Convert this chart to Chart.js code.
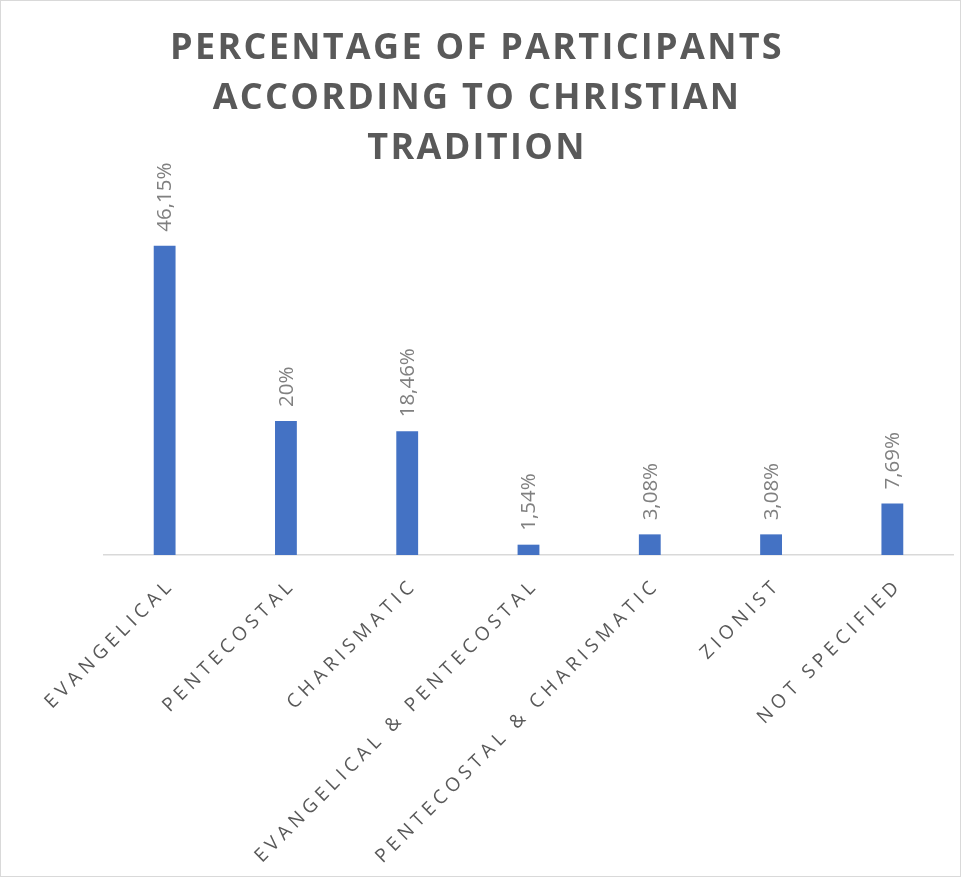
<!DOCTYPE html>
<html lang="en">
<head>
    <meta charset="UTF-8">
    <title>Christian Tradition</title>
    <script src="https://cdn.jsdelivr.net/npm/chart.js"></script>
    <style>
        body {
            margin: 0;
            background: #fff;
        }
        .wrap {
            width: 959px;
            height: 875px;
            border: 1px solid #d9d9d9;
        }
    </style>
</head>
<body>
    <div class="wrap">
        <canvas id="chart" width="959" height="875"></canvas>
    </div>

    <script>
        const categories = ['EVANGELICAL', 'PENTECOSTAL', 'CHARISMATIC', 'EVANGELICAL & PENTECOSTAL',
            'PENTECOSTAL & CHARISMATIC', 'ZIONIST', 'NOT SPECIFIED'];
        const percentages = [46.15, 20, 18.46, 1.54, 3.08, 3.08, 7.69];
        const valueLabels = ['46,15%', '20%', '18,46%', '1,54%', '3,08%', '3,08%', '7,69%'];
        const titleLines = ['PERCENTAGE OF PARTICIPANTS', 'ACCORDING TO CHRISTIAN', 'TRADITION'];

        // spacing for title text, reset before the bars
        const spacing = {
            id: 'spacing',
            beforeDraw(chart) { chart.ctx.letterSpacing = '2.3px'; },
            beforeDatasetsDraw(chart) { chart.ctx.letterSpacing = '0px'; }
        };

        const labels = {
            id: 'labels',
            afterDatasetsDraw(chart) {
                const ctx = chart.ctx;
                const bars = chart.getDatasetMeta(0).data;
                const x = chart.scales.x;
                const base = chart.chartArea.bottom;

                ctx.save();
                ctx.font = '20.5px "Open Sans"';
                ctx.fillStyle = '#808080';
                ctx.textAlign = 'left';
                ctx.textBaseline = 'middle';
                bars.forEach((bar, i) => {
                    ctx.save();
                    ctx.translate(bar.x + 1, bar.y - 14);
                    ctx.rotate(-Math.PI / 2);
                    ctx.fillText(valueLabels[i], 0, 0);
                    ctx.restore();
                });

                ctx.font = '19px "Open Sans"';
                ctx.letterSpacing = '4.8px';
                ctx.fillStyle = '#595959';
                ctx.textAlign = 'right';
                categories.forEach((c, i) => {
                    const px = x.getPixelForTick(i);
                    ctx.save();
                    ctx.translate(px + 7, base + 27);
                    ctx.rotate(-Math.PI / 4);
                    ctx.fillText(c, 0, 0);
                    ctx.restore();
                });
                ctx.restore();
            }
        };

        new Chart(document.getElementById('chart'), {
            type: 'bar',
            data: {
                labels: categories,
                datasets: [{
                    data: percentages,
                    backgroundColor: '#4472c4',
                    barPercentage: 0.18,
                    categoryPercentage: 1
                }]
            },
            options: {
                responsive: false,
                devicePixelRatio: 1,
                animation: false,
                layout: { padding: { right: 7 } },
                plugins: {
                    legend: { display: false },
                    tooltip: { enabled: false },
                    title: {
                        display: true,
                        text: titleLines,
                        color: '#595959',
                        font: { family: 'Open Sans', size: 36, weight: 'bold', lineHeight: 50 / 36 },
                        padding: { top: 23, bottom: 46 }
                    }
                },
                scales: {
                    x: {
                        grid: { display: false },
                        border: { color: '#d9d9d9', width: 1.5 },
                        ticks: { display: false },
                        afterFit(s) { s.height = 321; }
                    },
                    y: {
                        min: 0,
                        max: 50,
                        grid: { display: false },
                        border: { display: false },
                        ticks: { display: false },
                        afterFit(s) { s.width = 103; }
                    }
                }
            },
            plugins: [spacing, labels]
        });
    </script>
</body>
</html>
